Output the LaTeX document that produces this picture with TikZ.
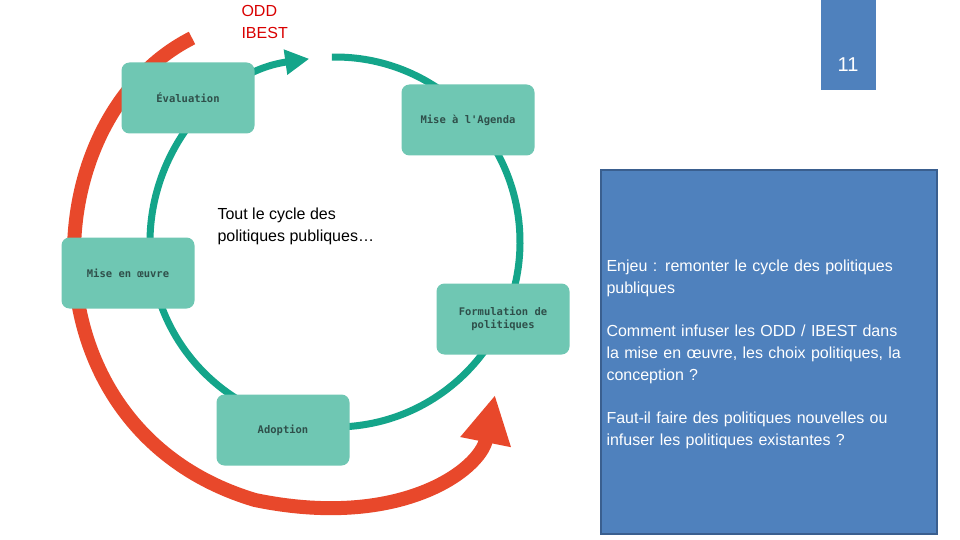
\documentclass[tikz,border=0pt]{standalone}
\usepackage{fontspec}
\setmainfont{Liberation Sans}
\setmonofont{DejaVu Sans Mono}
\usetikzlibrary{arrows.meta}
\definecolor{tealbox}{HTML}{6FC7B3}
\definecolor{tealring}{HTML}{14A58A}
\definecolor{redarr}{HTML}{E8482B}
\definecolor{bluebox}{HTML}{4F81BD}
\definecolor{blueedge}{HTML}{3A5F8F}
\definecolor{boxtext}{HTML}{2F4F4A}
\begin{document}
\begin{tikzpicture}[x=1pt,y=-1pt,
  stage/.style={fill=tealbox,rounded corners=8pt,minimum width=133pt,minimum height=71pt,
    font=\ttfamily\bfseries\fontsize{10.5}{13}\selectfont,text=boxtext,align=center},
  bodytext/.style={font=\fontsize{16}{22}\selectfont,align=left,anchor=north west}]
\useasboundingbox (0,0) rectangle (960,540);
\fill[white] (0,0) rectangle (960,540);
% red arrow
\coordinate (r0) at (192,38);
\coordinate (r1) at (255,500);
\coordinate (r2) at (495,395);
\draw[redarr,line width=14pt,-{Triangle[length=48pt,width=48pt]}]
  (r0) .. controls (30,120) and (20,430) .. (r1) .. controls (400,530) and (480,470) .. (r2);
% teal ring
\coordinate (c) at (335,242);
\draw[tealring,line width=7pt,-{Triangle[length=24pt,width=24pt]}]
  ([shift={(-91:185)}]c) arc[start angle=-91,end angle=262,radius=185];
% boxes
\node[stage] (eval) at (188,98) {Évaluation};
\node[stage] (agenda) at (468,120) {Mise à l'Agenda};
\node[stage] (oeuvre) at (128,273) {Mise en œuvre};
\node[stage] (form) at (503,319) {Formulation de\\politiques};
\node[stage] (adopt) at (283,430) {Adoption};
% labels
\node[bodytext,text=red!85!black] (odd) at (238,2) {ODD\\IBEST};
\node[bodytext] (tout) at (214,204) {Tout le cycle des\\politiques publiques…};
% page number
\node[fill=bluebox,minimum width=55pt,minimum height=90pt,anchor=north west,inner sep=0pt] (pg) at (821,0) {};
\node[text=white,font=\fontsize{20}{24}\selectfont] (num) at (848,65) {11};
% blue box
\node[fill=bluebox,draw=blueedge,line width=2pt,minimum width=336pt,minimum height=364pt,anchor=north west,inner sep=0pt] (blue) at (600,169) {};
\node[bodytext,text=white,text width=330pt] (txt) at (603,256) {Enjeu : remonter le cycle des politiques\\publiques\\[21pt]
Comment infuser les ODD / IBEST dans\\la mise en œuvre, les choix politiques, la\\conception ?\\[21pt]
Faut-il faire des politiques nouvelles ou\\infuser les politiques existantes ?};
\end{tikzpicture}
\end{document}
